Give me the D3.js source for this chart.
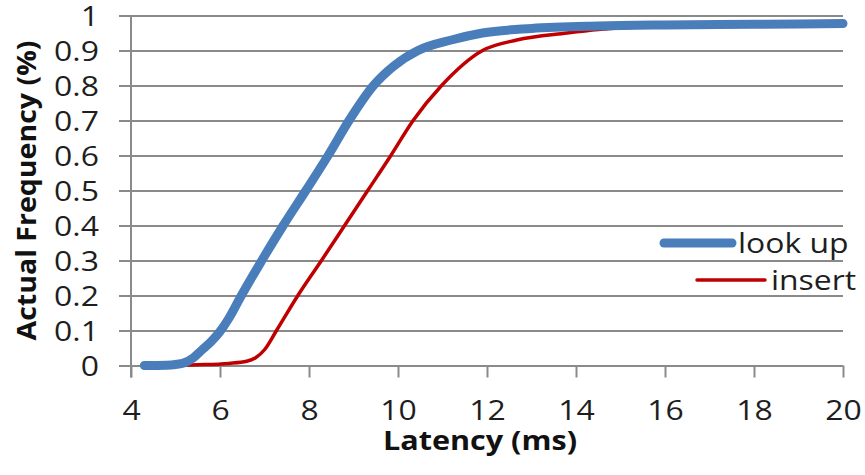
<!DOCTYPE html>
<html>
<head>
<meta charset="utf-8">
<script src="https://cdn.jsdelivr.net/npm/d3@7"></script>
<style>
  html, body { margin: 0; padding: 0; background: #fff; }
  svg { display: block; }
</style>
</head>
<body>
<svg id="chart" width="865" height="475"></svg>
<script>
// ---- Data ----
const lookupLatency = [4.3, 4.8, 5.0, 5.2, 5.4, 5.6, 5.8, 6.0, 6.2, 6.48, 6.94, 7.42, 7.93, 8.43, 8.9, 9.45, 9.9, 10.45, 11.2, 11.9, 13.0, 14.5, 16, 18, 20];
const lookupFreq    = [0, 0.001, 0.003, 0.008, 0.022, 0.045, 0.068, 0.097, 0.135, 0.2, 0.3, 0.4, 0.5, 0.6, 0.7, 0.8, 0.855, 0.9, 0.93, 0.95, 0.963, 0.97, 0.973, 0.975, 0.977];
const insertLatency = [4.6, 5.5, 6.2, 6.6, 6.8, 7.0, 7.27, 7.75, 8.28, 8.8, 9.32, 9.84, 10.34, 10.98, 11.9, 12.67, 13.8, 14.5, 16, 18, 20];
const insertFreq    = [0, 0.002, 0.006, 0.012, 0.022, 0.045, 0.1, 0.2, 0.3, 0.4, 0.5, 0.6, 0.7, 0.8, 0.9, 0.93, 0.95, 0.96, 0.97, 0.974, 0.977];
const xTicks = [4, 6, 8, 10, 12, 14, 16, 18, 20];
const yTicks = [0, 0.1, 0.2, 0.3, 0.4, 0.5, 0.6, 0.7, 0.8, 0.9, 1];
const seriesNames = ["look up", "insert"];
const xTitle = "Latency (ms)";
const yTitle = "Actual Frequency (%)";

// ---- Layout ----
const svg = d3.select("#chart");
const pLeft = 131, pRight = 843, pTop = 15.5, pBottom = 365.5;
const x = d3.scaleLinear().domain([4, 20]).range([pLeft, pRight]);
const y = d3.scaleLinear().domain([0, 1]).range([pBottom, pTop]);
const gridColor = "#8a8a8a";
const textColor = "#1e1e1e";
const font = "'Open Sans', 'Liberation Sans', sans-serif";
const sx = 1.14; // horizontal glyph stretch to match reference

svg.append("rect").attr("width", 865).attr("height", 475).attr("fill", "#fff");

// Horizontal gridlines (extending left as tick marks)
const yAxis = d3.axisLeft(y).tickValues(yTicks).tickSize(-(pRight - pLeft))
  .tickFormat(d => d === 0 || d === 1 ? String(d) : d3.format(".1f")(d)).tickPadding(21);
const gy = svg.append("g").attr("transform", `translate(${pLeft},0)`).call(yAxis);
gy.select(".domain").remove();
gy.selectAll(".tick line").attr("x1", -12).attr("stroke", gridColor).attr("stroke-width", 2);
gy.selectAll(".tick text").attr("font-family", font).attr("font-size", 28).attr("fill", textColor)
  .attr("dy", "0.36em").attr("x", -32 / sx).attr("transform", `scale(${sx},1)`);

// X axis
const xAxis = d3.axisBottom(x).tickValues(xTicks).tickSize(12).tickPadding(23).tickFormat(d3.format("d"));
const gx = svg.append("g").attr("transform", `translate(0,${pBottom})`).call(xAxis);
gx.select(".domain").remove();
gx.selectAll(".tick line").attr("stroke", gridColor).attr("stroke-width", 2);
gx.selectAll(".tick text").attr("font-family", font).attr("font-size", 28).attr("fill", textColor)
  .attr("dy", "0.71em").attr("transform", `scale(${sx},1)`);

// Left axis line
svg.append("line").attr("x1", pLeft).attr("x2", pLeft).attr("y1", pTop).attr("y2", pBottom + 12)
  .attr("stroke", gridColor).attr("stroke-width", 2);

// Lines
const line = d3.line().x(d => x(d[0])).y(d => y(d[1])).curve(d3.curveMonotoneX);
const insertData = insertLatency.map((v, i) => [v, insertFreq[i]]);
const lookupData = lookupLatency.map((v, i) => [v, lookupFreq[i]]);
svg.append("path").datum(insertData).attr("d", line).attr("fill", "none")
  .attr("stroke", "#c00000").attr("stroke-width", 3.5).attr("stroke-linecap", "round").attr("stroke-linejoin", "round");
svg.append("path").datum(lookupData).attr("d", line).attr("fill", "none")
  .attr("stroke", "#4a7ebb").attr("stroke-width", 9).attr("stroke-linecap", "round").attr("stroke-linejoin", "round");

// Legend
const leg = svg.append("g");
leg.append("line").attr("x1", 664).attr("x2", 732).attr("y1", 243).attr("y2", 243)
  .attr("stroke", "#4a7ebb").attr("stroke-width", 9).attr("stroke-linecap", "round");
leg.append("text").attr("x", 738 / sx).attr("y", 253).text(seriesNames[0]).attr("transform", `scale(${sx},1)`)
  .attr("font-family", font).attr("font-size", 28).attr("fill", textColor);
leg.append("line").attr("x1", 697).attr("x2", 765).attr("y1", 280).attr("y2", 280)
  .attr("stroke", "#c00000").attr("stroke-width", 3.5).attr("stroke-linecap", "round");
leg.append("text").attr("x", 771 / sx).attr("y", 290).text(seriesNames[1]).attr("transform", `scale(${sx},1)`)
  .attr("font-family", font).attr("font-size", 28).attr("fill", textColor);

// Axis titles
svg.append("text").attr("x", 480).attr("y", 450).attr("text-anchor", "middle")
  .attr("font-family", font).attr("font-weight", "bold").attr("font-size", 27).attr("fill", "#111")
  .attr("textLength", 194).attr("lengthAdjust", "spacingAndGlyphs")
  .text(xTitle);
svg.append("text").attr("transform", `translate(36,${(pTop + pBottom) / 2}) rotate(-90)`).attr("text-anchor", "middle")
  .attr("font-family", font).attr("font-weight", "bold").attr("font-size", 26).attr("fill", "#111")
  .attr("textLength", 300).attr("lengthAdjust", "spacingAndGlyphs")
  .text(yTitle);
</script>
</body>
</html>
